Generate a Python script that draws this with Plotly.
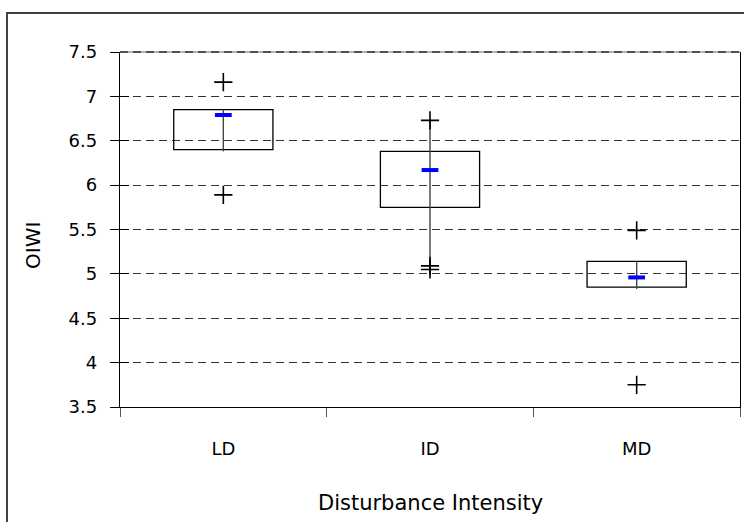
import plotly.graph_objects as go

# ---- data ----
categories = ["LD", "ID", "MD"]
box_low = [6.40, 5.75, 4.85]
box_high = [6.85, 6.38, 5.14]
line_low = [6.38, 4.99, 4.83]
line_high = [6.85, 6.73, 5.14]
blue_mark = [6.79, 6.17, 4.96]
plus_cat = ["LD", "LD", "ID", "ID", "ID", "MD", "MD"]
plus_val = [7.16, 5.89, 6.73, 5.09, 5.05, 5.49, 3.75]

y_ticks = [3.5, 4, 4.5, 5, 5.5, 6, 6.5, 7, 7.5]

FONT = "DejaVu Sans"

fig = go.Figure()

# boxes (transparent so gridlines show through)
fig.add_trace(go.Bar(
    x=categories,
    y=[h - l for h, l in zip(box_high, box_low)],
    base=box_low,
    width=0.48,
    marker=dict(color="rgba(0,0,0,0)", line=dict(color="black", width=1.3)),
    showlegend=False, hoverinfo="skip",
))

# high-low lines
lx, ly = [], []
for c, lo, hi in zip(categories, line_low, line_high):
    lx += [c, c, None]
    ly += [lo, hi, None]
fig.add_trace(go.Scatter(
    x=lx, y=ly, mode="lines",
    line=dict(color="#444444", width=1.4),
    showlegend=False, hoverinfo="skip",
))

# blue dashes
fig.add_trace(go.Scatter(
    x=categories, y=blue_mark, mode="markers",
    marker=dict(symbol="line-ew", size=12, line=dict(color="#0000ff", width=4)),
    showlegend=False, hoverinfo="skip",
))

# plus markers
fig.add_trace(go.Scatter(
    x=plus_cat, y=plus_val, mode="markers",
    marker=dict(symbol="cross-thin", size=13, line=dict(color="black", width=1.6)),
    showlegend=False, hoverinfo="skip",
))

W, H = 744, 522
L, R, T, B = 120, 4, 52, 115
pw, ph = W - L - R, H - T - B

fig.update_layout(
    width=W, height=H,
    margin=dict(l=L, r=R, t=T, b=B, pad=0),
    paper_bgcolor="white", plot_bgcolor="white",
    font=dict(family=FONT, color="black", size=18),
    showlegend=False,
    xaxis=dict(
        type="category",
        range=[-0.5, 2.5],
        tickson="boundaries",
        ticks="outside", ticklen=9, tickcolor="#555555", tickwidth=1,
        showline=True, linecolor="black", linewidth=1.3,
        showgrid=False, zeroline=False,
        tickfont=dict(family=FONT, size=18),
        ticklabelstandoff=25,
    ),
    yaxis=dict(
        range=[3.5, 7.5],
        tickvals=y_ticks,
        ticks="outside", ticklen=9, tickcolor="black", tickwidth=1,
        showline=True, linecolor="black", linewidth=1.3, mirror=True,
        showgrid=True, gridcolor="#333333", gridwidth=1, griddash="8px,5px",
        zeroline=False,
        tickfont=dict(family=FONT, size=18),
        ticklabelstandoff=9,
    ),
    yaxis2=dict(
        range=[3.5, 7.5],
        tickvals=y_ticks,
        overlaying="y", side="left",
        ticks="inside", ticklen=9, tickcolor="black", tickwidth=1,
        showticklabels=False, showgrid=False, zeroline=False, showline=False,
    ),
)

# dummy trace to activate yaxis2
fig.add_trace(go.Scatter(x=[categories[0]], y=[y_ticks[0]], yaxis="y2",
                         mode="markers", marker=dict(opacity=0),
                         showlegend=False, hoverinfo="skip"))

# axis titles as annotations
fig.add_annotation(text="OIWI", textangle=-90, showarrow=False,
                   xref="paper", yref="paper",
                   x=(33 - L) / pw, y=(H - B - 246) / ph,
                   xanchor="center", yanchor="middle",
                   font=dict(family=FONT, size=20))
fig.add_annotation(text="Disturbance Intensity", showarrow=False,
                   xref="paper", yref="paper",
                   x=0.5, y=(H - B - 503) / ph,
                   xanchor="center", yanchor="middle",
                   font=dict(family=FONT, size=21))

# top border of plot area (grey dashed look)
fig.add_shape(type="line", xref="paper", yref="paper", x0=0, x1=1, y0=1, y1=1,
              line=dict(color="#999999", width=1.3), layer="below")
fig.add_shape(type="line", xref="paper", yref="paper", x0=0, x1=1, y0=1, y1=1,
              line=dict(color="#333333", width=1.3, dash="8px,5px"), layer="below")

# outer chart-area frame (cut off at right/bottom)
fig.add_shape(type="rect", xref="paper", yref="paper",
              x0=(7 - L) / pw, x1=(W + 20 - L) / pw,
              y0=(H - B - (H + 20)) / ph, y1=(H - B - 13) / ph,
              line=dict(color="#404040", width=2), fillcolor="rgba(0,0,0,0)")

fig.write_html("out.html")
